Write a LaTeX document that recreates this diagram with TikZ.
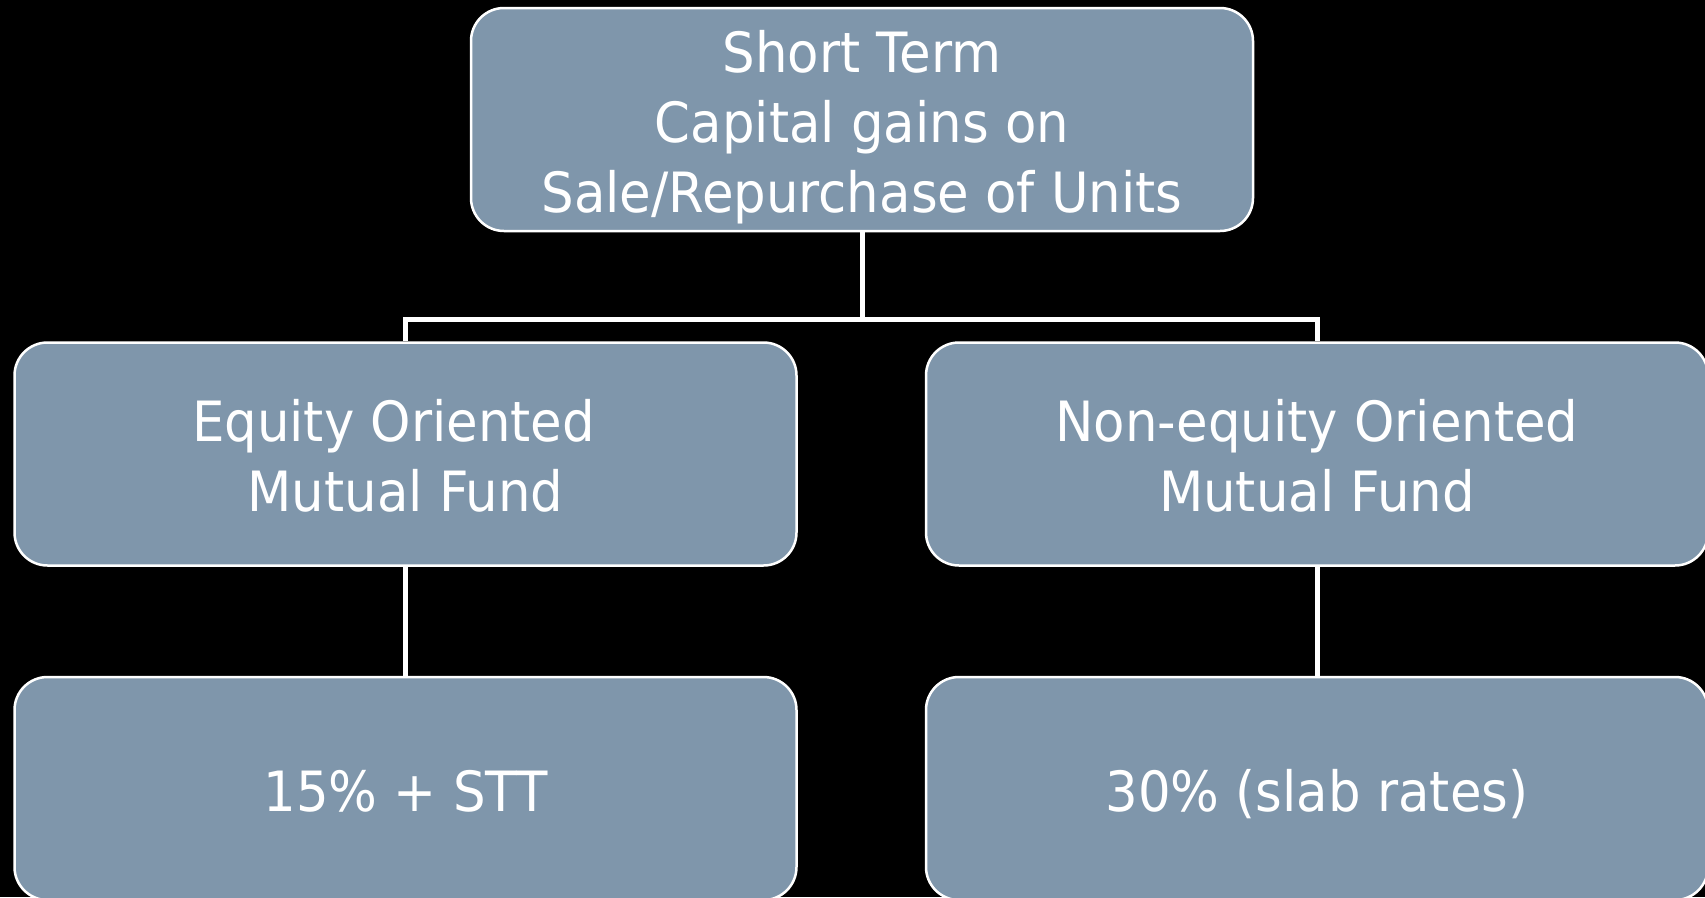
\documentclass[tikz,border=0pt]{standalone}
\usepackage{fontspec}
\setmainfont{DejaVu Sans}[FakeStretch=0.925]
\usetikzlibrary{calc}
\definecolor{boxfill}{HTML}{7F96AB}
\newcommand\boxtext[1]{\raisebox{-8.5pt}[\height][\depth]{\begin{tabular}{@{}c@{}}#1\end{tabular}}}
\tikzset{
  box/.style={draw=white, line width=2.5pt, fill=boxfill, rounded corners=33pt,
    minimum width=782pt, minimum height=223pt, inner sep=0pt, text=white,
    font=\fontsize{55.5}{70}\selectfont},
  conn/.style={draw=white, line width=5pt}
}
\begin{document}
\begin{tikzpicture}[x=1pt,y=1pt]
\fill[black] (0,0) rectangle (1705,-897);
\useasboundingbox (0,0) rectangle (1705,-897);
\clip (0,0) rectangle (1705,-897);
\node[box] (top) at (862,-119.5) {\boxtext{Short Term\\Capital gains on\\Sale/Repurchase of Units}};
\node[box] (left) at (405.5,-454) {\boxtext{Equity Oriented\kern24pt\\Mutual Fund}};
\node[box] (right) at (1317,-454) {\boxtext{Non-equity Oriented\\Mutual Fund}};
\node[box] (bl) at (405.5,-788.5) {\boxtext{15\% + STT}};
\node[box] (br) at (1317,-788.5) {\boxtext{30\% (slab rates)}};
\coordinate (j) at (862,-319);
\draw[conn] (top.south) -- (j);
\draw[conn] (left.north) |- (j) -| (right.north);
\draw[conn] (left.south) -- (bl.north);
\draw[conn] (right.south) -- (br.north);
\end{tikzpicture}
\end{document}
